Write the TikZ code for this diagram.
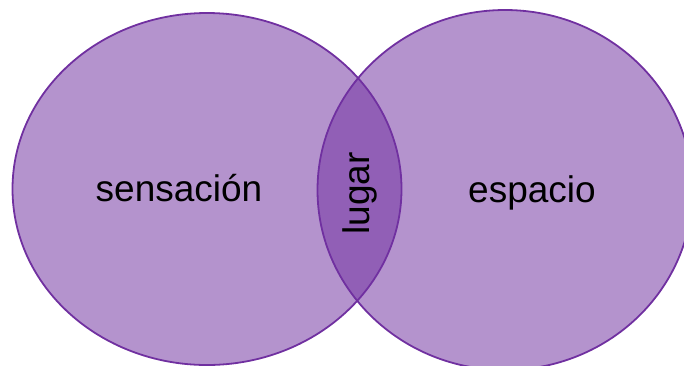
\documentclass[tikz,border=0pt]{standalone}
\usepackage{fontspec}
\setmainfont{Liberation Sans}
\usetikzlibrary{shapes.geometric}
\definecolor{vpurple}{HTML}{7030A0}
\tikzset{
  setfill/.style={ellipse, inner sep=0pt, fill=vpurple, fill opacity=0.52, draw=none},
  setline/.style={draw=vpurple, line width=1.8pt},
  lbl/.style={font=\fontsize{37}{40}\selectfont, text=black, inner sep=0pt, anchor=base}
}
\begin{document}
\begin{tikzpicture}[x=1pt,y=-1pt]
\useasboundingbox (0,0) rectangle (684,365);
\clip (0,0) rectangle (684,365);
\node[setfill, minimum width=389pt, minimum height=352pt] (cL) at (207,189) {};
\node[setfill, minimum width=375pt, minimum height=360pt] (cR) at (505,190) {};
\draw[setline] (cL.center) ellipse [x radius=194.5pt, y radius=176pt];
\draw[setline] (cR.center) ellipse [x radius=187.5pt, y radius=180pt];
\node[lbl] (sens) at (179,201) {sensación};
\node[lbl] (esp) at (532,202) {espacio};
\node[lbl, rotate=90] (lug) at (369,193.5) {lugar};
\end{tikzpicture}
\end{document}
